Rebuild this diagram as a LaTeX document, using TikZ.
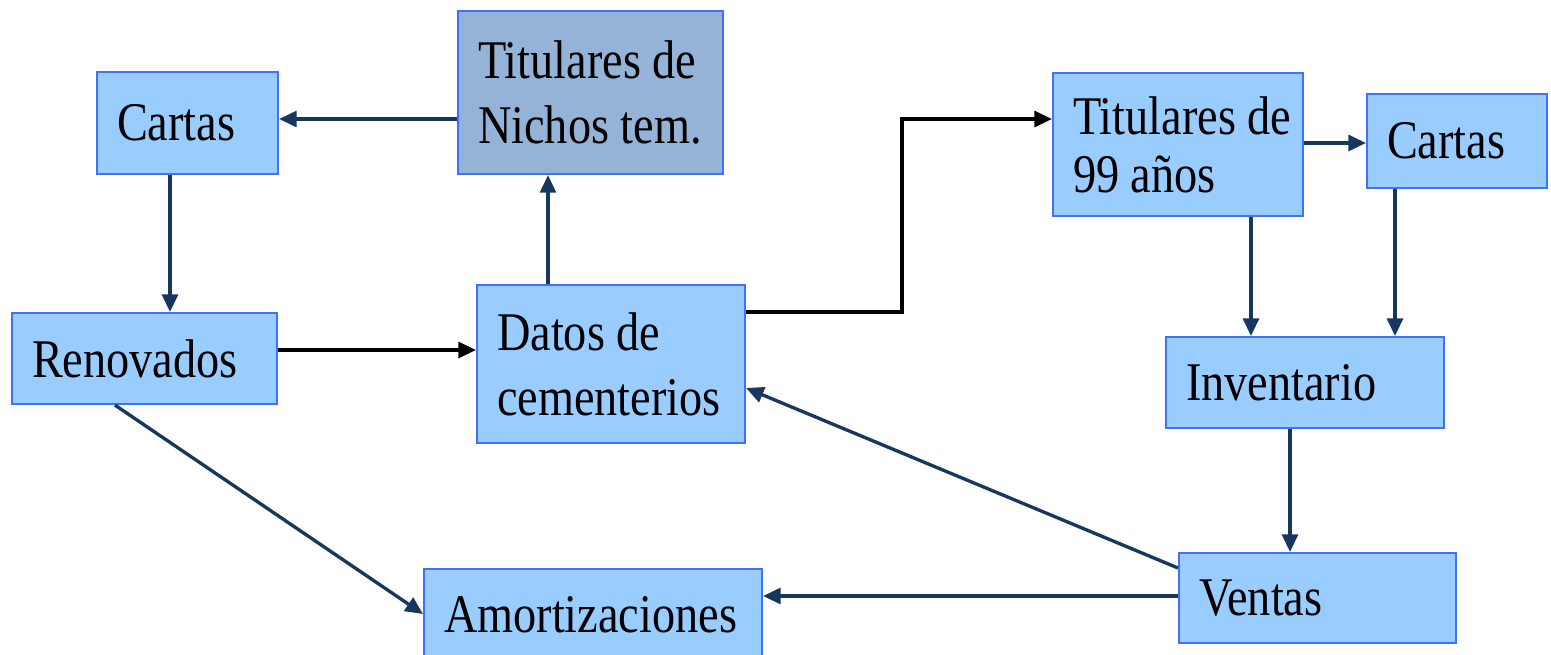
\documentclass[tikz,border=0pt]{standalone}
\usepackage{fontspec}
\setmainfont{Liberation Serif}[FakeStretch=0.85]
\usetikzlibrary{arrows.meta}
\newcommand{\wsp}{\hspace{0.21em}}
\definecolor{boxfill}{HTML}{99CCFF}
\definecolor{boxdark}{HTML}{95B3D7}
\definecolor{boxline}{HTML}{4070FF}
\definecolor{arrblue}{HTML}{17375E}
\tikzset{
  bx/.style={draw=boxline, line width=1.2pt, fill=boxfill, anchor=north west,
    inner xsep=0.40cm, inner ysep=0pt, align=left,
    font=\fontsize{31}{37}\selectfont},
  conn/.style={draw=arrblue, line width=1.9pt, -{Triangle[length=10pt,width=9pt]}},
  connk/.style={draw=black, line width=1.9pt, -{Triangle[length=10pt,width=9pt]}}
}
\begin{document}
\begin{tikzpicture}[x=0.02cm,y=-0.02cm]
\useasboundingbox (0,0) rectangle (1551,654);
\node[bx, minimum width=3.62cm, minimum height=2.04cm, text width=2.82cm] (cartasL) at (96,71) {\mbox{Cartas}};
\node[bx, fill=boxdark, minimum width=5.30cm, minimum height=3.26cm, text width=4.50cm] (nichos) at (457,10) {\mbox{Titulares\wsp de}\\\mbox{Nichos\wsp tem.}};
\node[bx, minimum width=5.30cm, minimum height=1.82cm, text width=4.50cm] (renov) at (11,312) {\mbox{Renovados}};
\node[bx, minimum width=5.36cm, minimum height=3.16cm, text width=4.56cm] (datos) at (476,284) {\mbox{Datos\wsp de}\\\mbox{cementerios}};
\node[bx, minimum width=5.00cm, minimum height=2.86cm, text width=4.20cm, font=\fontsize{31}{33}\selectfont] (tit99) at (1052,72) {\mbox{Titulares\wsp de}\\\mbox{99\wsp años}};
\node[bx, minimum width=3.60cm, minimum height=1.88cm, text width=2.80cm] (cartasR) at (1366,93) {\mbox{Cartas}};
\node[bx, minimum width=5.56cm, minimum height=1.82cm, text width=4.76cm] (invent) at (1165,336) {\mbox{Inventario}};
\node[bx, minimum width=5.54cm, minimum height=1.80cm, text width=4.74cm] (ventas) at (1178,552) {\mbox{Ventas}};
\node[bx, minimum width=6.76cm, minimum height=1.84cm, text width=5.96cm] (amort) at (423,568) {\mbox{Amortizaciones}};

\draw[conn] (nichos.west |- 0,119) -- (cartasL.east |- 0,119);
\draw[conn] (cartasL.south -| 170,0) -- (renov.north -| 170,0);
\draw[conn] (datos.north -| 548,0) -- (nichos.south -| 548,0);
\draw[connk] (renov.east |- 0,350) -- (datos.west |- 0,350);
\draw[connk] (datos.east |- 0,312) -| (902,119) -- (tit99.west |- 0,119);
\draw[conn] (tit99.east |- 0,143) -- (cartasR.west |- 0,143);
\draw[conn] (tit99.south -| 1251,0) -- (invent.north -| 1251,0);
\draw[conn] (cartasR.south -| 1395,0) -- (invent.north -| 1395,0);
\draw[conn] (invent.south -| 1290,0) -- (ventas.north -| 1290,0);
\draw[conn] (ventas.west |- 0,568) -- (datos.east |- 0,388);
\draw[conn] (ventas.west |- 0,596) -- (amort.east |- 0,596);
\draw[conn] (renov.south -| 115,0) -- (amort.west |- 0,614);
\end{tikzpicture}
\end{document}
